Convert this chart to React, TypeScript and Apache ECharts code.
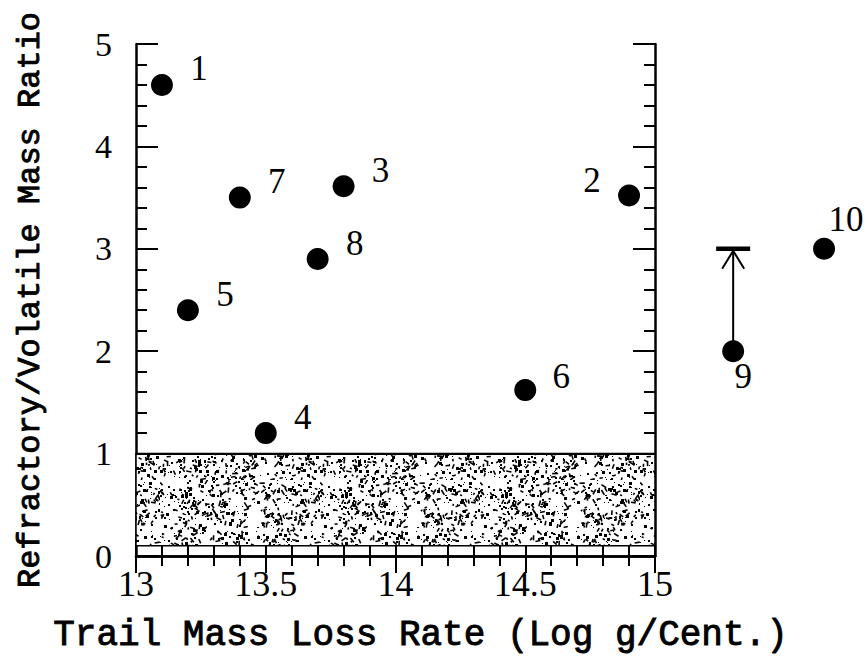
import React, { useEffect, useRef } from "react";
import * as echarts from "echarts";

// ---- data ----
const pointNames = ["1", "2", "3", "4", "5", "6", "7", "8"];
const logRate = [13.1, 14.9, 13.8, 13.5, 13.2, 14.5, 13.4, 13.7];
const massRatio = [4.6, 3.52, 3.61, 1.2, 2.4, 1.62, 3.5, 2.9];

const outNames = ["9", "10"];
const outLogRate = [15.3, 15.65];
const outRatio = [2.0, 3.0];
const limitRatio9 = 3.0; // lower limit arrow for point 9

const xTicks = [13, 13.5, 14, 14.5, 15];
const yTicks = [0, 1, 2, 3, 4, 5];
const shadedBand = [0.1, 1.0];

const SERIF = "Liberation Serif";
const MONO = "Liberation Mono";

function makeStipple(): any {
  const w = 160;
  const h = 120;
  const c = document.createElement("canvas");
  c.width = w;
  c.height = h;
  const ctx = c.getContext("2d");
  if (!ctx) return "#c8c8c8";
  ctx.fillStyle = "#ffffff";
  ctx.fillRect(0, 0, w, h);
  ctx.fillStyle = "#000000";
  ctx.strokeStyle = "#000000";
  let s = 12345;
  const nxt = () => {
    s = (s * 1103515245 + 12345) % 2147483648;
    return s / 2147483648;
  };
  for (let i = 0; i < 950; i++) {
    const x = nxt() * w;
    const y = nxt() * h;
    const t = nxt();
    if (t < 0.62) {
      const sz = 1 + Math.floor(nxt() * 2.4);
      ctx.fillRect(Math.floor(x), Math.floor(y), sz, sz);
    } else {
      const a = nxt() * Math.PI * 2;
      const l = 2 + nxt() * 4;
      ctx.lineWidth = 1.6;
      ctx.beginPath();
      ctx.moveTo(x, y);
      ctx.lineTo(x + Math.cos(a) * l, y + Math.sin(a) * l);
      ctx.stroke();
    }
  }
  return { image: c, repeat: "repeat", imageWidth: w, imageHeight: h };
}

export default function App() {
  const ref = useRef<HTMLDivElement>(null);
  useEffect(() => {
    if (!ref.current) return;
    const chart = echarts.init(ref.current, null, { renderer: "svg" });

    const axisLine = { show: true, lineStyle: { color: "#000", width: 2.5 } };
    const xCommon = (pos: "bottom" | "top", showLabel: boolean) => ({
      type: "value",
      gridIndex: 0,
      position: pos,
      min: xTicks[0],
      max: xTicks[xTicks.length - 1],
      interval: 0.5,
      axisLine,
      axisTick: { show: true, inside: true, length: 17, lineStyle: { color: "#000", width: 2 } },
      minorTick: { show: true, splitNumber: 5, length: 10, lineStyle: { color: "#000", width: 2 } },
      splitLine: { show: false },
      axisLabel: {
        show: showLabel,
        margin: 10,
        color: "#000",
        fontFamily: SERIF,
        fontSize: 36,
        formatter: (v: number) => String(v),
      },
    });
    const yCommon = (pos: "left" | "right", showLabel: boolean) => ({
      type: "value",
      gridIndex: 0,
      position: pos,
      min: yTicks[0],
      max: yTicks[yTicks.length - 1],
      interval: 1,
      axisLine,
      axisTick: { show: true, inside: true, length: 22, lineStyle: { color: "#000", width: 2 } },
      minorTick: { show: true, splitNumber: 5, length: 11, lineStyle: { color: "#000", width: 2 } },
      splitLine: { show: false },
      axisLabel: {
        show: showLabel,
        margin: 24,
        color: "#000",
        fontFamily: SERIF,
        fontSize: 34,
      },
    });

    const xBottom: any = xCommon("bottom", true);
    xBottom.name = "Trail Mass Loss Rate (Log g/Cent.)";
    xBottom.nameLocation = "middle";
    xBottom.nameGap = 62;
    xBottom.nameTextStyle = {
      color: "#000",
      fontFamily: MONO,
      fontSize: 36,
      lineHeight: 34,
      textBorderColor: "#000",
      textBorderWidth: 0.9,
      padding: [0, 0, 0, 50],
    };
    const yLeft: any = yCommon("left", true);
    yLeft.name = "Refractory/Volatile Mass Ratio";
    yLeft.nameLocation = "middle";
    yLeft.nameGap = 90;
    yLeft.nameTextStyle = {
      color: "#000",
      fontFamily: MONO,
      fontSize: 32,
      textBorderColor: "#000",
      textBorderWidth: 0.9,
    };

    const mainData = logRate.map((x, i) => {
      const d: any = { value: [x, massRatio[i]], name: pointNames[i] };
      if (pointNames[i] === "2") d.label = { offset: [-37, -15] };
      if (pointNames[i] === "6") d.label = { offset: [36, -14] };
      return d;
    });
    const outData = outLogRate.map((x, i) => {
      const d: any = { value: [x, outRatio[i]], name: outNames[i] };
      if (outNames[i] === "9") d.label = { offset: [10, 25] };
      if (outNames[i] === "10") d.label = { offset: [22, -29] };
      return d;
    });

    const labelStyle = {
      show: true,
      position: "inside",
      offset: [37, -16],
      color: "#000",
      opacity: 1,
      fontFamily: SERIF,
      fontSize: 35,
      formatter: (p: any) => p.name,
    };

    const option: any = {
      animation: false,
      backgroundColor: "#fff",
      grid: [
        { left: 136, right: 212, top: 44, bottom: 100, containLabel: false, outerBoundsMode: "none" },
        { left: 136, right: 17, top: 44, bottom: 100, containLabel: false, outerBoundsMode: "none" },
      ],
      xAxis: [
        xBottom,
        xCommon("top", false),
        { type: "value", gridIndex: 1, min: 13, max: 15.75, show: false },
      ],
      yAxis: [
        yLeft,
        yCommon("right", false),
        { type: "value", gridIndex: 1, min: 0, max: 5, show: false },
      ],
      series: [
        {
          type: "scatter",
          xAxisIndex: 0,
          yAxisIndex: 0,
          symbol: "circle",
          symbolSize: 22,
          itemStyle: { color: "#000", opacity: 1 },
          label: labelStyle,
          data: mainData,
          z: 5,
          markArea: {
            silent: true,
            itemStyle: { color: makeStipple(), borderColor: "#000", borderWidth: 1.5, opacity: 1 },
            data: [[{ yAxis: shadedBand[0] }, { yAxis: shadedBand[1] }]],
          },
          markLine: {
            silent: true,
            symbol: "none",
            label: { show: false },
            lineStyle: { color: "#000", width: 2.2, type: "solid", opacity: 1 },
            data: [{ yAxis: shadedBand[1] }],
          },
        },
        {
          type: "custom",
          xAxisIndex: 2,
          yAxisIndex: 2,
          data: [[outLogRate[0], outRatio[0], limitRatio9]],
          renderItem: (params: any, api: any) => {
            const p0 = api.coord([api.value(0), api.value(1)]);
            const p1 = api.coord([api.value(0), api.value(2)]);
            return {
              type: "group",
              children: [
                {
                  type: "line",
                  shape: { x1: p0[0], y1: p0[1], x2: p1[0], y2: p1[1] },
                  style: { stroke: "#000", lineWidth: 2 },
                },
                {
                  type: "line",
                  shape: { x1: p1[0] - 17, y1: p1[1], x2: p1[0] + 17, y2: p1[1] },
                  style: { stroke: "#000", lineWidth: 4.5 },
                },
                {
                  type: "polyline",
                  shape: {
                    points: [
                      [p1[0] - 11, p1[1] + 20],
                      [p1[0], p1[1] + 2],
                      [p1[0] + 11, p1[1] + 20],
                    ],
                  },
                  style: { stroke: "#000", lineWidth: 2, fill: "none" },
                },
              ],
            };
          },
          z: 4,
        },
        {
          type: "scatter",
          xAxisIndex: 2,
          yAxisIndex: 2,
          symbol: "circle",
          symbolSize: 22,
          itemStyle: { color: "#000", opacity: 1 },
          label: labelStyle,
          data: outData,
          z: 5,
        },
      ],
    };
    chart.setOption(option);
    return () => chart.dispose();
  }, []);
  return (
    <div
      ref={ref}
      style={{ position: "fixed", left: 0, top: 0, width: 867, height: 656, background: "#fff" }}
    />
  );
}
